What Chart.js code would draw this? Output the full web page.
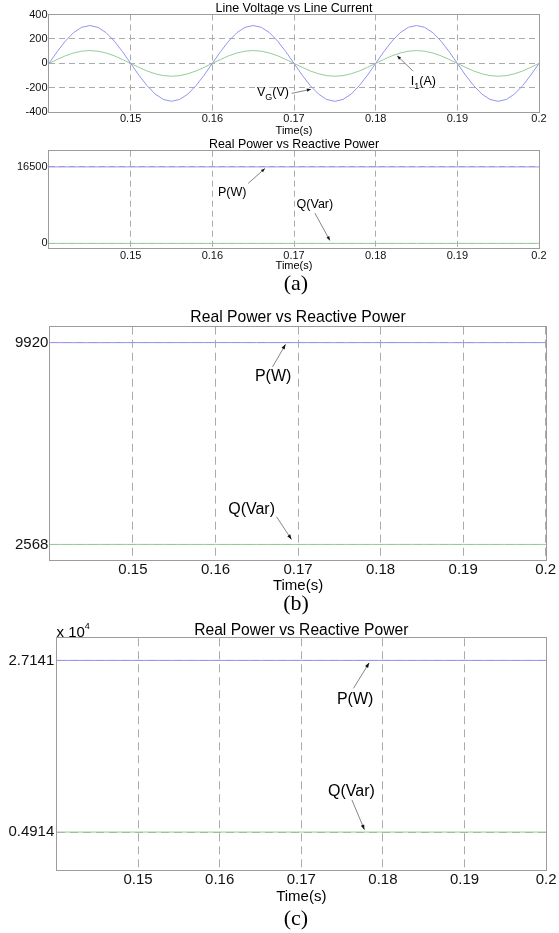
<!DOCTYPE html>
<html>
<head>
<meta charset="utf-8">
<script src="https://cdn.jsdelivr.net/npm/chart.js@4.4.0/dist/chart.umd.min.js"></script>
<style>
  html, body { margin:0; padding:0; background:#fff; }
  #wrap { position:relative; width:559px; height:933px; overflow:hidden; background:#fff; }
  canvas { position:absolute; left:0; }
  .cap { position:absolute; width:100px; text-align:center; font-family:"Liberation Serif","Times New Roman",serif; font-size:22px; color:#000; height:30px; line-height:30px; z-index:5; }
  #mult { position:absolute; left:56.5px; top:624px; font-family:"Liberation Sans",Arial,sans-serif; font-size:15px; line-height:16px; color:#000; z-index:5; }
  #mult span { font-size:9px; position:relative; top:-8px; }
</style>
</head>
<body>
<div id="wrap">
  <canvas id="c1" width="559" height="136" style="top:0px;width:559px;height:136px"></canvas>
  <canvas id="c2" width="559" height="135" style="top:136px;width:559px;height:135px"></canvas>
  <canvas id="c3" width="559" height="293" style="top:300px;width:559px;height:293px"></canvas>
  <canvas id="c4" width="559" height="304" style="top:600px;width:559px;height:304px"></canvas>
  <div class="cap" style="left:246px;top:268px">(a)</div>
  <div class="cap" style="left:246px;top:588px">(b)</div>
  <div class="cap" style="left:246px;top:903px">(c)</div>
  <div id="mult">x 10<span>4</span></div>
</div>
<script>
// ---------- DATA ----------
const timeV = [0.140,0.141,0.142,0.143,0.144,0.145,0.146,0.147,0.148,0.149,
               0.150,0.151,0.152,0.153,0.154,0.155,0.156,0.157,0.158,0.159,
               0.160,0.161,0.162,0.163,0.164,0.165,0.166,0.167,0.168,0.169,
               0.170,0.171,0.172,0.173,0.174,0.175,0.176,0.177,0.178,0.179,
               0.180,0.181,0.182,0.183,0.184,0.185,0.186,0.187,0.188,0.189,
               0.190,0.191,0.192,0.193,0.194,0.195,0.196,0.197,0.198,0.199,0.200];
const lineVoltage = [0,96,182,251,295,310,295,251,182,96,0,-96,-182,-251,-295,-310,-295,-251,-182,-96,
                     0,96,182,251,295,310,295,251,182,96,0,-96,-182,-251,-295,-310,-295,-251,-182,-96,
                     0,96,182,251,295,310,295,251,182,96,0,-96,-182,-251,-295,-310,-295,-251,-182,-96,0];
const lineCurrent = [0,32,62,85,100,105,100,85,62,32,0,-32,-62,-85,-100,-105,-100,-85,-62,-32,
                     0,32,62,85,100,105,100,85,62,32,0,-32,-62,-85,-100,-105,-100,-85,-62,-32,
                     0,32,62,85,100,105,100,85,62,32,0,-32,-62,-85,-100,-105,-100,-85,-62,-32,0];

const timeP = [0.140,0.145,0.150,0.155,0.160,0.165,0.170,0.175,0.180,0.185,0.190,0.195,0.200];
const realPowerA     = [16500,16500,16500,16500,16500,16500,16500,16500,16500,16500,16500,16500,16500];
const reactivePowerA = [0,0,0,0,0,0,0,0,0,0,0,0,0];
const realPowerB     = [9920,9918,9920,9920,9921,9920,9920,9919,9920,9920,9918,9920,9920];
const reactivePowerB = [2568,2568,2569,2568,2568,2567,2568,2568,2568,2569,2568,2568,2568];
const realPowerC     = [27141,27141,27141,27141,27141,27141,27141,27141,27141,27141,27141,27141,27141];
const reactivePowerC = [4914,4914,4914,4914,4914,4914,4914,4914,4914,4914,4914,4914,4914];

const xTicks = [0.15,0.16,0.17,0.18,0.19,0.2];
const xTickLabels = ['0.15','0.16','0.17','0.18','0.19','0.2'];
const yTicks1 = [-400,-200,0,200,400];
const yTickLabels1 = ['-400','-200','0','200','400'];
const yTicks2 = [0,16500];
const yTickLabels2 = ['0','16500'];
const yTicks3 = [2568,9920];
const yTickLabels3 = ['2568','9920'];
const yTicks4 = [4914,27141];
const yTickLabels4 = ['0.4914','2.7141'];

// ---------- STYLE ----------
const FF = '"Liberation Sans", Arial, Helvetica, sans-serif';
const BLUE = '#9494f0';
const GREEN = '#96cc96';
const GRID = '#ababab';
const FRAME = '#9c9c9c';

const annotPlugin = {
  id: 'annot',
  afterDatasetsDraw(chart, args, opts) {
    const items = opts.items || [];
    const xs = chart.scales.x, ys = chart.scales.y, ctx = chart.ctx;
    ctx.save();
    items.forEach(it => {
      const x1 = xs.getPixelForValue(it.from[0]), y1 = ys.getPixelForValue(it.from[1]);
      const x2 = xs.getPixelForValue(it.to[0]), y2 = ys.getPixelForValue(it.to[1]);
      ctx.strokeStyle = '#666'; ctx.lineWidth = 0.8;
      ctx.beginPath(); ctx.moveTo(x1, y1); ctx.lineTo(x2, y2); ctx.stroke();
      const ang = Math.atan2(y2 - y1, x2 - x1);
      const L = opts.headLen, W = opts.headWid;
      ctx.fillStyle = '#111';
      ctx.beginPath(); ctx.moveTo(x2, y2);
      ctx.lineTo(x2 - L*Math.cos(ang) + W*Math.sin(ang), y2 - L*Math.sin(ang) - W*Math.cos(ang));
      ctx.lineTo(x2 - L*Math.cos(ang) - W*Math.sin(ang), y2 - L*Math.sin(ang) + W*Math.cos(ang));
      ctx.closePath(); ctx.fill();
      let tx = xs.getPixelForValue(it.at[0]);
      const ty = ys.getPixelForValue(it.at[1]);
      ctx.fillStyle = '#000'; ctx.textBaseline = 'middle'; ctx.textAlign = 'left';
      it.parts.forEach(p => {
        const size = p.sub ? opts.size * 0.72 : opts.size;
        ctx.font = size + 'px ' + FF;
        ctx.fillText(p.t, tx, ty + (p.sub ? opts.size * 0.38 : 0));
        tx += ctx.measureText(p.t).width;
      });
    });
    ctx.restore();
  }
};

const framePlugin = {
  id: 'frame',
  afterDraw(chart) {
    const {left, top, right, bottom} = chart.chartArea;
    const ctx = chart.ctx;
    ctx.save();
    ctx.strokeStyle = FRAME; ctx.lineWidth = 1;
    const l = Math.round(left) - 0.5, t = Math.round(top) - 0.5;
    const r = Math.round(right) + 0.5, b = Math.round(bottom) + 0.5;
    ctx.strokeRect(l, t, r - l, b - t);
    ctx.restore();
  }
};

function build(id, o) {
  return new Chart(document.getElementById(id), {
    type: 'line',
    data: {
      datasets: o.series.map(s => ({
        data: s.x.map((t, i) => ({x: t, y: s.y[i]})),
        borderColor: s.color, borderWidth: 1, pointRadius: 0, tension: 0, fill: false
      }))
    },
    options: {
      responsive: false, animation: false, devicePixelRatio: 1, events: [],
      layout: { padding: { left: 0, right: o.padR, top: 0, bottom: 0 } },
      plugins: {
        legend: { display: false }, tooltip: { enabled: false },
        title: { display: true, fullSize: false, text: o.title, color: '#000',
                 font: { family: FF, size: o.titleSize, lineHeight: 1, weight: 'normal' },
                 padding: { top: o.titlePadT, bottom: o.titlePadB } },
        annot: { items: o.annot, size: o.annotSize, headLen: o.headLen, headWid: o.headWid }
      },
      scales: {
        x: {
          type: 'linear', min: 0.14, max: 0.2, z: o.gridZ,
          afterBuildTicks: s => { s.ticks = xTicks.map(v => ({value: v})); },
          afterFit: s => { s.height = o.xH; },
          ticks: { callback: (v, i) => xTickLabels[i], color: '#111', padding: o.xPad,
                   maxRotation: 0, autoSkip: false,
                   font: { family: FF, size: o.tickSize, lineHeight: 1 } },
          grid: { color: GRID, lineWidth: 1, drawTicks: false },
          border: { display: false, dash: o.dash },
          title: { display: true, text: 'Time(s)', color: '#000', padding: 0,
                   font: { family: FF, size: o.tickSize, lineHeight: 1 } }
        },
        y: {
          type: 'linear', min: o.yMin, max: o.yMax, z: o.gridZ,
          afterBuildTicks: s => { s.ticks = o.yTicks.map(v => ({value: v})); },
          afterFit: s => { s.width = o.yW; },
          ticks: { callback: (v, i) => o.yLabels[i], color: '#111', padding: o.yPad,
                   autoSkip: false, font: { family: FF, size: o.tickSize, lineHeight: 1 } },
          grid: { color: GRID, lineWidth: 1, drawTicks: false },
          border: { display: false, dash: o.dash }
        }
      }
    },
    plugins: [annotPlugin, framePlugin]
  });
}

// (top) Line Voltage vs Line Current
build('c1', {
  title: 'Line Voltage vs Line Current', titleSize: 12.5, titlePadT: 2, titlePadB: 0,
  padR: 20, yW: 49, xH: 23.7, xPad: 1.2, yPad: 1.5, tickSize: 11, dash: [6, 4], gridZ: 0,
  yMin: -400, yMax: 400, yTicks: yTicks1, yLabels: yTickLabels1,
  series: [ {x: timeV, y: lineVoltage, color: BLUE}, {x: timeV, y: lineCurrent, color: GREEN} ],
  annotSize: 12.5, headLen: 4, headWid: 1.6,
  annot: [
    { parts: [{t:'V'},{t:'G',sub:true},{t:'(V)'}], at: [0.16546, -242], from: [0.16971, -245], to: [0.17207, -212] },
    { parts: [{t:'I'},{t:'1',sub:true},{t:'(A)'}], at: [0.18431, -150], from: [0.18459, -63], to: [0.18263, 62] }
  ]
});

// (a) Real Power vs Reactive Power
build('c2', {
  title: 'Real Power vs Reactive Power', titleSize: 12.4, titlePadT: 2.3, titlePadB: 0,
  padR: 20, yW: 49, xH: 23, xPad: 2.5, yPad: 1.5, tickSize: 11, dash: [6, 4], gridZ: 1,
  yMin: -1000, yMax: 20000, yTicks: yTicks2, yLabels: yTickLabels2,
  series: [ {x: timeP, y: realPowerA, color: BLUE}, {x: timeP, y: reactivePowerA, color: GREEN} ],
  annotSize: 12.5, headLen: 4, headWid: 1.6,
  annot: [
    { parts: [{t:'P(W)'}], at: [0.16069, 10928], from: [0.16439, 12942], to: [0.16644, 16156] },
    { parts: [{t:'Q(Var)'}], at: [0.17032, 8292], from: [0.17256, 6514], to: [0.17439, 643] }
  ]
});

// (b)
build('c3', {
  title: 'Real Power vs Reactive Power', titleSize: 15.7, titlePadT: 10.1, titlePadB: 0.9,
  padR: 13.3, yW: 50.4, xH: 33, xPad: 2.5, yPad: 2, tickSize: 15, dash: [8, 5], gridZ: 1,
  yMin: 2000, yMax: 10500, yTicks: yTicks3, yLabels: yTickLabels3,
  series: [ {x: timeP, y: realPowerB, color: BLUE}, {x: timeP, y: reactivePowerB, color: GREEN} ],
  annotSize: 16, headLen: 5, headWid: 1.8,
  annot: [
    { parts: [{t:'P(W)'}], at: [0.16477, 8672], from: [0.16691, 9035], to: [0.16849, 9858] },
    { parts: [{t:'Q(Var)'}], at: [0.16154, 3837], from: [0.1674, 3573], to: [0.16921, 2749] }
  ]
});

// (c)
build('c4', {
  title: 'Real Power vs Reactive Power', titleSize: 15.6, titlePadT: 22.7, titlePadB: 0,
  padR: 10.7, yW: 56.5, xH: 34, xPad: 2.5, yPad: 2.2, tickSize: 15, dash: [8, 5], gridZ: 0,
  yMin: 0, yMax: 30000, yTicks: yTicks4, yLabels: yTickLabels4,
  series: [ {x: timeP, y: realPowerC, color: BLUE}, {x: timeP, y: reactivePowerC, color: GREEN} ],
  annotSize: 16, headLen: 5, headWid: 1.8,
  annot: [
    { parts: [{t:'P(W)'}], at: [0.17437, 22010], from: [0.1764, 23522], to: [0.17832, 26831] },
    { parts: [{t:'Q(Var)'}], at: [0.17327, 10161], from: [0.1762, 9088], to: [0.17774, 5211] }
  ]
});
</script>
</body>
</html>
